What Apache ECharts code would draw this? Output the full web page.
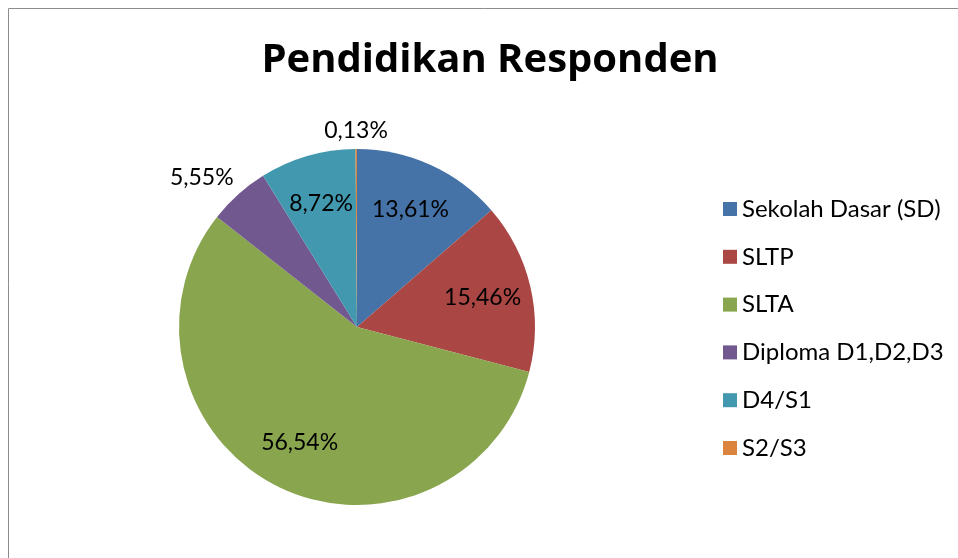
<!DOCTYPE html>
<html>
<head>
<meta charset="utf-8">
<script src="https://cdn.jsdelivr.net/npm/echarts@6/dist/echarts.min.js"></script>
<style>
  html, body { margin: 0; padding: 0; background: #fff; }
  #chart { width: 958px; height: 558px; }
</style>
</head>
<body>
<div id="chart"></div>
<script>
// data
const categories = ['Sekolah Dasar (SD)', 'SLTP', 'SLTA', 'Diploma D1,D2,D3', 'D4/S1', 'S2/S3']
const shares = [13.61, 15.46, 56.54, 5.55, 8.72, 0.13]
const colors = ['#4572A7', '#AA4643', '#89A54E', '#71588F', '#4198AF', '#DB843D']

const font = 'Lato'
const center = [357, 327]
const pieRadius = 178
const fmt = p => p.value.toFixed(2).replace('.', ',') + '%'

// small slices get their label outside the pie (excel "best fit")
const isSmall = v => v < 6

const pieData = categories.map((name, i) => ({ name, value: shares[i] }))

function labelRing(radius, showFn, layout) {
  return {
    type: 'pie',
    center: center,
    radius: radius,
    silent: true,
    legendHoverLink: false,
    avoidLabelOverlap: false,
    emphasis: { disabled: true },
    tooltip: { show: false },
    itemStyle: { color: 'rgba(0,0,0,0)' },
    labelLine: { show: false },
    labelLayout: layout,
    data: categories.map((name, i) => ({
      name,
      value: shares[i],
      label: { show: showFn(shares[i]) }
    })),
    label: {
      position: 'inside',
      formatter: fmt,
      color: '#000',
      fontFamily: font,
      fontSize: 23
    }
  }
}

// outside label: the box corner (or edge middle) facing the pie sits on the ray, a bit off the rim
function outsideLayout(p) {
  const r = p.labelRect
  const mx = r.x + r.width / 2 - center[0]
  const my = r.y + r.height / 2 - center[1]
  const len = Math.sqrt(mx * mx + my * my) || 1
  const dx = mx / len, dy = my / len
  const clamp = v => Math.max(-1, Math.min(1, v / 0.5))
  const px = center[0] + dx * (pieRadius + 7)
  const py = center[1] + dy * (pieRadius + 7)
  const cx = px + clamp(dx) * r.width / 2
  const cy = py + clamp(dy) * r.height / 2
  return {
    x: cx - r.width / 2,
    y: cy - r.height / 2,
    align: 'left',
    verticalAlign: 'top'
  }
}

const chart = echarts.init(document.getElementById('chart'))
chart.setOption({
  backgroundColor: '#fff',
  animation: false,
  color: colors,
  title: {
    text: 'Pendidikan Responden',
    left: 485,
    top: 36,
    textAlign: 'center',
    textStyle: { fontFamily: 'Open Sans', fontSize: 40, fontWeight: 'bold', color: '#000' }
  },
  legend: {
    orient: 'vertical',
    left: 718,
    top: 192,
    icon: 'rect',
    itemWidth: 14,
    itemHeight: 14,
    itemGap: 23.8,
    data: categories,
    textStyle: { fontFamily: font, fontSize: 24, lineHeight: 24, color: '#000' }
  },
  graphic: [{
    type: 'rect',
    shape: { x: 8.5, y: 8.5, width: 1200, height: 1200 },
    style: { fill: 'none', stroke: '#8c8c8c', lineWidth: 1 },
    silent: true
  }],
  series: [
    {
      type: 'pie',
      center: center,
      radius: pieRadius,
      startAngle: 90,
      clockwise: true,
      avoidLabelOverlap: false,
      label: { show: false },
      labelLine: { show: false },
      itemStyle: { borderWidth: 0 },
      data: pieData
    },
    labelRing([106, 146], v => !isSmall(v)),
    labelRing([188, 226], v => isSmall(v), outsideLayout)
  ]
})
</script>
</body>
</html>
